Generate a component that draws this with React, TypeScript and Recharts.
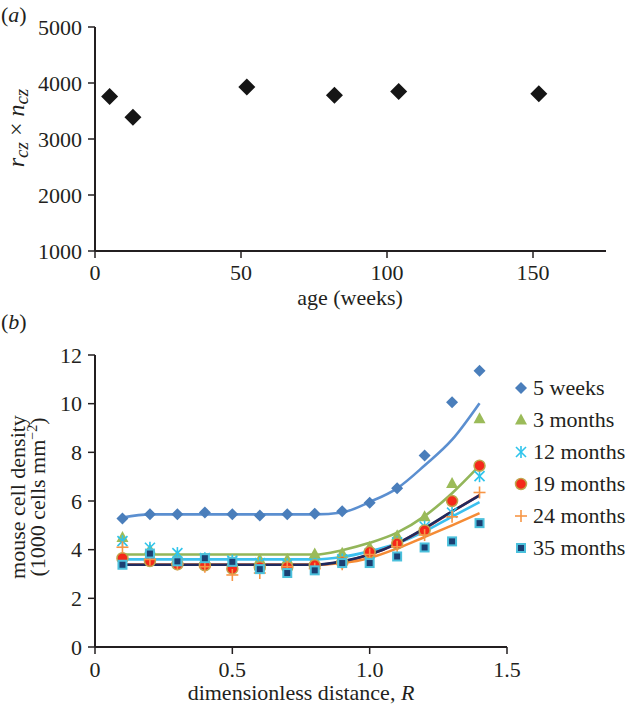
import React from 'react';
import { ScatterChart, Scatter, ComposedChart, Line, XAxis, YAxis } from 'recharts';

const FONT = '"Liberation Serif", "Times New Roman", serif';
const INK = '#231f20';

// panel (a): r_cz x n_cz against age
const ageWeeks = [5, 13, 52, 82, 104, 152];
const rczTimesNcz = [3760, 3390, 3930, 3780, 3850, 3810];
const ageTicks = [0, 50, 100, 150];
const productTicks = [1000, 2000, 3000, 4000, 5000];

// panel (b): cell density against dimensionless distance
const distanceR = [0.1, 0.2, 0.3, 0.4, 0.5, 0.6, 0.7, 0.8, 0.9, 1.0, 1.1, 1.2, 1.3, 1.4];
const pts5Weeks = [5.28, 5.46, 5.46, 5.53, 5.46, 5.4, 5.46, 5.48, 5.58, 5.93, 6.52, 7.87, 10.06, 11.35];
const pts3Months = [4.5, 4.0, 3.75, 3.6, 3.5, 3.6, 3.6, 3.82, 3.85, 4.1, 4.57, 5.35, 6.72, 9.38];
const pts12Months = [4.35, 4.08, 3.86, 3.65, 3.55, 3.45, 3.4, 3.42, 3.6, 3.85, 4.3, 4.95, 5.52, 7.02];
const pts19Months = [3.65, 3.53, 3.4, 3.36, 3.22, 3.28, 3.28, 3.36, 3.48, 3.9, 4.25, 4.79, 6.0, 7.45];
const pts24Months = [4.1, 3.6, 3.4, 3.3, 2.96, 3.04, 3.3, 3.22, 3.4, 3.8, 4.12, 4.6, 5.35, 6.35];
const pts35Months = [3.38, 3.84, 3.52, 3.65, 3.5, 3.2, 3.04, 3.15, 3.45, 3.45, 3.72, 4.09, 4.34, 5.09];

const fit5Weeks = [5.32, 5.45, 5.45, 5.45, 5.45, 5.45, 5.45, 5.45, 5.53, 5.96, 6.52, 7.46, 8.52, 10.02];
const fit3Months = [3.8, 3.8, 3.8, 3.8, 3.8, 3.8, 3.8, 3.8, 3.98, 4.28, 4.7, 5.38, 6.32, 7.45];
const fit12Months = [3.6, 3.6, 3.6, 3.6, 3.6, 3.6, 3.6, 3.6, 3.7, 3.93, 4.25, 4.75, 5.36, 5.95];
const fit19Months = [3.38, 3.38, 3.38, 3.38, 3.38, 3.38, 3.38, 3.38, 3.5, 3.8, 4.25, 4.86, 5.56, 6.24];
const fit24Months = [3.38, 3.38, 3.38, 3.38, 3.38, 3.38, 3.38, 3.38, 3.45, 3.66, 4.05, 4.52, 5.0, 5.5];
const fit35Months = [3.38, 3.38, 3.38, 3.38, 3.38, 3.38, 3.38, 3.38, 3.52, 3.8, 4.25, 4.88, 5.57, 6.23];
const densityTicks = [0, 2, 4, 6, 8, 10, 12];
const distanceTicks = [0, 0.5, 1, 1.5];

const panelA = ageWeeks.map((age, i) => ({ age, value: rczTimesNcz[i] }));

const panelB = distanceR.map((R, i) => ({
  R,
  p5w: pts5Weeks[i],
  p3m: pts3Months[i],
  p12m: pts12Months[i],
  p19m: pts19Months[i],
  p24m: pts24Months[i],
  p35m: pts35Months[i],
  f5w: fit5Weeks[i],
  f3m: fit3Months[i],
  f12m: fit12Months[i],
  f19m: fit19Months[i],
  f24m: fit24Months[i],
  f35m: fit35Months[i],
}));

type Kind = 'diamond' | 'triangle' | 'asterisk' | 'circle' | 'plus' | 'square';

const Marker = ({ kind, cx, cy }: { kind: Kind; cx: number; cy: number }) => {
  if (cx == null || cy == null) return null;
  switch (kind) {
    case 'diamond':
      return <path d={`M${cx},${cy - 6} L${cx + 6},${cy} L${cx},${cy + 6} L${cx - 6},${cy} Z`} fill="#4a7ebb" />;
    case 'triangle':
      return <path d={`M${cx},${cy - 6.5} L${cx + 6},${cy + 4.5} L${cx - 6},${cy + 4.5} Z`} fill="#9bbb59" />;
    case 'asterisk':
      return (
        <g stroke="#2ec4ec" strokeWidth={1.6}>
          <line x1={cx - 5} y1={cy - 5} x2={cx + 5} y2={cy + 5} />
          <line x1={cx - 5} y1={cy + 5} x2={cx + 5} y2={cy - 5} />
          <line x1={cx} y1={cy - 6} x2={cx} y2={cy + 6} />
        </g>
      );
    case 'circle':
      return <circle cx={cx} cy={cy} r={5.5} fill="#f5281a" stroke="#bfa64e" strokeWidth={1.5} />;
    case 'plus':
      return (
        <g stroke="#f79646" strokeWidth={1.6}>
          <line x1={cx - 6} y1={cy} x2={cx + 6} y2={cy} />
          <line x1={cx} y1={cy - 6} x2={cx} y2={cy + 6} />
        </g>
      );
    default:
      return <rect x={cx - 4} y={cy - 4} width={8} height={8} fill="#1b3f72" stroke="#4bc0dc" strokeWidth={2} />;
  }
};

const pointSeries: { key: string; kind: Kind; label: string }[] = [
  { key: 'p5w', kind: 'diamond', label: '5 weeks' },
  { key: 'p3m', kind: 'triangle', label: '3 months' },
  { key: 'p12m', kind: 'asterisk', label: '12 months' },
  { key: 'p19m', kind: 'circle', label: '19 months' },
  { key: 'p24m', kind: 'plus', label: '24 months' },
  { key: 'p35m', kind: 'square', label: '35 months' },
];

const fitSeries = [
  { key: 'f5w', color: '#5b8fd0' },
  { key: 'f3m', color: '#93b65a' },
  { key: 'f12m', color: '#3cc0ef' },
  { key: 'f19m', color: '#d8342a' },
  { key: 'f24m', color: '#f58b35' },
  { key: 'f35m', color: '#1f2a5e' },
];

const tickStyle = { fill: INK, fontSize: 22, fontFamily: FONT };
const axisLineStyle = { stroke: INK, strokeWidth: 2 };
const tickLineStyle = { stroke: INK, strokeWidth: 1.5 };

const yLabelA = () => (
  <text transform="translate(24,128) rotate(-90)" textAnchor="middle" fontFamily={FONT} fontSize={24} fill={INK}>
    <tspan fontStyle="italic">r</tspan>
    <tspan fontStyle="italic" fontSize={19} dy={4}>cz</tspan>
    <tspan dy={-4}> × </tspan>
    <tspan fontStyle="italic">n</tspan>
    <tspan fontStyle="italic" fontSize={19} dy={4}>cz</tspan>
  </text>
);

const xLabelA = () => (
  <text x={350} y={305} textAnchor="middle" fontFamily={FONT} fontSize={22} fill={INK}>
    age (weeks)
  </text>
);

const yLabelB = () => (
  <g fontFamily={FONT} fontSize={22} fill={INK}>
    <text transform="translate(25,167) rotate(-90)" textAnchor="middle">mouse cell density</text>
    <text transform="translate(45,167) rotate(-90)" textAnchor="middle">
      (1000 cells mm<tspan fontSize={14} dy={-8}>−2</tspan><tspan dy={8}>)</tspan>
    </text>
  </g>
);

const xLabelB = () => (
  <text x={301} y={370} textAnchor="middle" fontFamily={FONT} fontSize={22} fill={INK}>
    dimensionless distance, <tspan fontStyle="italic">R</tspan>
  </text>
);

const PanelTag = ({ letter, top }: { letter: string; top: number }) => (
  <div style={{ position: 'absolute', left: 1, top, fontFamily: FONT, fontSize: 22, lineHeight: '22px', color: INK }}>
    (<i>{letter}</i>)
  </div>
);

const App = () => {
  return (
    <div style={{ position: 'absolute', left: 0, top: 0, width: 626, height: 704, background: '#fff', overflow: 'hidden' }}>
      <PanelTag letter="a" top={4} />
      <PanelTag letter="b" top={311} />

      <div style={{ position: 'absolute', left: 0, top: 0 }}>
        <ScatterChart width={626} height={320} margin={{ top: 27, right: 20, left: 35, bottom: 39 }}>
          <XAxis
            type="number"
            dataKey="age"
            domain={[0, 175]}
            ticks={ageTicks}
            interval={0}
            height={30}
            tickSize={7}
            tickMargin={6}
            tick={tickStyle}
            axisLine={axisLineStyle}
            tickLine={tickLineStyle}
            label={xLabelA}
          />
          <YAxis
            type="number"
            dataKey="value"
            domain={[1000, 5000]}
            ticks={productTicks}
            interval={0}
            width={60}
            tickSize={7}
            tickMargin={6}
            tick={tickStyle}
            axisLine={axisLineStyle}
            tickLine={tickLineStyle}
            label={yLabelA}
          />
          <Scatter
            data={panelA}
            isAnimationActive={false}
            shape={(p: any) => (
              <path
                d={`M${p.cx},${p.cy - 8.5} L${p.cx + 8.5},${p.cy} L${p.cx},${p.cy + 8.5} L${p.cx - 8.5},${p.cy} Z`}
                fill="#151515"
              />
            )}
          />
        </ScatterChart>
      </div>

      <div style={{ position: 'absolute', left: 0, top: 330 }}>
        <ComposedChart width={626} height={374} data={panelB} margin={{ top: 25, right: 119, left: 35, bottom: 27 }}>
          <XAxis
            type="number"
            dataKey="R"
            domain={[0, 1.5]}
            ticks={distanceTicks}
            interval={0}
            height={30}
            tickSize={7}
            tickMargin={7}
            tick={tickStyle}
            tickFormatter={(v: number) => (v === 0 ? '0' : v.toFixed(1))}
            axisLine={axisLineStyle}
            tickLine={tickLineStyle}
            label={xLabelB}
          />
          <YAxis
            type="number"
            domain={[0, 12]}
            ticks={densityTicks}
            interval={0}
            width={60}
            tickSize={7}
            tickMargin={6}
            tick={tickStyle}
            axisLine={axisLineStyle}
            tickLine={tickLineStyle}
            label={yLabelB}
          />
          {fitSeries.map((s) => (
            <Line
              key={s.key}
              dataKey={s.key}
              type="monotone"
              stroke={s.color}
              strokeWidth={2.6}
              dot={false}
              activeDot={false}
              isAnimationActive={false}
            />
          ))}
          {pointSeries.map((s) => (
            <Line
              key={s.key}
              dataKey={s.key}
              stroke="none"
              activeDot={false}
              isAnimationActive={false}
              dot={(p: any) => <Marker key={`${s.key}-${p.index}`} kind={s.kind} cx={p.cx} cy={p.cy} />}
            />
          ))}
        </ComposedChart>
      </div>

      <div style={{ position: 'absolute', left: 510, top: 372, fontFamily: FONT, fontSize: 22, color: INK }}>
        {pointSeries.map((s) => (
          <div key={s.key} style={{ height: 32, display: 'flex', alignItems: 'center', whiteSpace: 'nowrap' }}>
            <svg width={20} height={20} style={{ marginRight: 3 }}>
              <Marker kind={s.kind} cx={11} cy={10} />
            </svg>
            <span>{s.label}</span>
          </div>
        ))}
      </div>
    </div>
  );
};

export default App;
